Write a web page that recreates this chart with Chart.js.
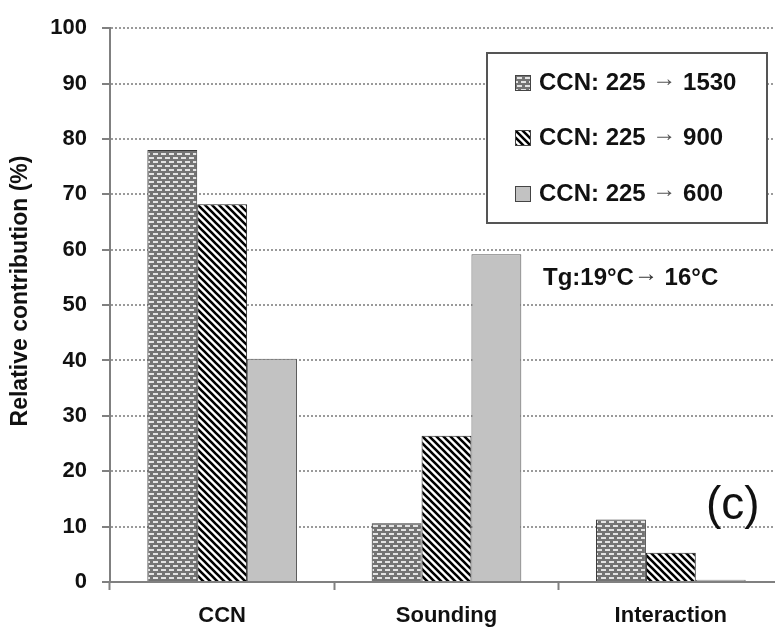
<!DOCTYPE html>
<html>
<head>
<meta charset="utf-8">
<script src="https://cdn.jsdelivr.net/npm/chart.js@4"></script>
<style>
  html, body { margin: 0; padding: 0; background: #fff; overflow: hidden; }
  #wrap { width: 775px; height: 631px; overflow: hidden; }
  canvas { display: block; }
</style>
</head>
<body>
<div id="wrap"><canvas id="chart" width="790" height="631"></canvas></div>
<script>
// Relative contribution of each factor for three CCN increases
const categories = ['CCN', 'Sounding', 'Interaction'];
const ccnFrom = 225;
const ccnTo = [1530, 900, 600];
const ccn1530 = [78.0, 10.6, 11.3];
const ccn900 = [68.2, 26.4, 5.3];
const ccn600 = [40.3, 59.2, 0.4];
const yTicks = [0, 10, 20, 30, 40, 50, 60, 70, 80, 90, 100];
const axisTitle = 'Relative contribution (%)';
const noteParts = ['Tg:19°C', '→', ' 16°C'];
const panelText = '(c)';

const FONT = '"Liberation Sans", Arial, Helvetica, sans-serif';
const canvas = document.getElementById('chart');
const ctx = canvas.getContext('2d');

function makeTile(size, draw) {
  const t = document.createElement('canvas');
  t.width = size; t.height = size;
  draw(t.getContext('2d'), size);
  return ctx.createPattern(t, 'repeat');
}

// brick-like dashes on grey
const brick = makeTile(8, (g) => {
  g.fillStyle = '#747474'; g.fillRect(0, 0, 8, 8);
  g.fillStyle = '#e4e4e4';
  g.fillRect(1, 1, 5, 2);
  g.fillRect(5, 5, 5, 2);
  g.fillRect(-3, 5, 5, 2);
});

// black diagonal stripes running down to the right
const stripes = makeTile(7, (g, s) => {
  g.fillStyle = '#ffffff'; g.fillRect(0, 0, s, s);
  g.strokeStyle = '#000000'; g.lineWidth = 2.6;
  g.beginPath();
  g.moveTo(-2, -2); g.lineTo(s + 2, s + 2);
  g.moveTo(-2, s - 2); g.lineTo(2, s + 2);
  g.moveTo(s - 2, -2); g.lineTo(s + 2, 2);
  g.stroke();
});

const fills = [brick, stripes, '#c2c2c2'];
const edges = ['#3a3a3a', '#222222', '#5a5a5a'];

const annotations = {
  id: 'annotations',
  afterDraw(chart) {
    const c = chart.ctx;
    c.save();
    // vertical axis title
    c.save();
    c.translate(21, 291);
    c.rotate(-Math.PI / 2);
    c.font = 'bold 23px ' + FONT;
    c.fillStyle = '#111';
    c.textAlign = 'center';
    c.textBaseline = 'middle';
    c.fillText(axisTitle, 0, 0);
    c.restore();

    // legend box
    c.fillStyle = '#ffffff';
    c.fillRect(487, 53, 280, 170);
    c.strokeStyle = '#555555';
    c.lineWidth = 2;
    c.strokeRect(487, 53, 280, 170);
    const rows = [83, 138, 194];
    c.textBaseline = 'middle';
    c.textAlign = 'left';
    chart.data.datasets.forEach((ds, i) => {
      const y = rows[i];
      c.fillStyle = ds.backgroundColor;
      c.fillRect(515, y - 8, 16, 16);
      c.strokeStyle = '#444';
      c.lineWidth = 1;
      c.strokeRect(515.5, y - 7.5, 15, 15);
      let x = 539;
      c.fillStyle = '#111';
      c.font = 'bold 24px ' + FONT;
      const a = 'CCN: ' + ccnFrom + ' ';
      c.fillText(a, x, y);
      x += c.measureText(a).width;
      c.font = '24px ' + FONT;
      c.fillStyle = '#555';
      c.fillText('→', x, y - 4);
      x += c.measureText('→').width;
      c.font = 'bold 24px ' + FONT;
      c.fillStyle = '#111';
      c.fillText(' ' + ccnTo[i], x, y);
    });
    // temperature note
    let nx = 543;
    const ny = 278;
    c.fillStyle = '#111';
    c.font = 'bold 24px ' + FONT;
    c.fillText(noteParts[0], nx, ny);
    nx += c.measureText(noteParts[0]).width;
    c.font = 'bold 24px ' + FONT;
    c.fillStyle = '#333';
    c.fillText(noteParts[1], nx, ny - 4);
    nx += c.measureText(noteParts[1]).width;
    c.fillStyle = '#111';
    c.fillText(noteParts[2], nx, ny);
    // panel label
    c.font = '46px ' + FONT;
    c.fillText(panelText, 706, 506);
    c.restore();
  }
};

new Chart(canvas, {
  type: 'bar',
  data: {
    labels: categories,
    datasets: [ccn1530, ccn900, ccn600].map((d, i) => ({
      label: 'CCN: ' + ccnFrom + ' → ' + ccnTo[i],
      data: d,
      backgroundColor: fills[i],
      borderColor: edges[i],
      borderWidth: 1,
      categoryPercentage: 0.667,
      barPercentage: 1.0
    }))
  },
  options: {
    responsive: false,
    devicePixelRatio: 1,
    animation: false,
    layout: { padding: { top: 23, right: 7, left: 0, bottom: 0 } },
    plugins: { legend: { display: false }, tooltip: { enabled: false } },
    scales: {
      x: {
        afterFit(s) { s.height = 49; },
        grid: {
          offset: true,
          drawOnChartArea: false,
          tickLength: 8,
          tickColor: '#808080',
          tickWidth: 2
        },
        border: { display: true, color: '#808080', width: 2 },
        ticks: {
          color: '#111',
          padding: 13,
          font: { family: FONT, size: 22, weight: 'bold' }
        }
      },
      y: {
        min: 0,
        max: 100,
        afterFit(s) { s.width = 110; },
        afterBuildTicks(s) { s.ticks = yTicks.map(v => ({ value: v })); },
        grid: {
          color: '#9a9a9a',
          lineWidth: 2,
          tickLength: 8,
          tickColor: '#808080',
          tickWidth: 2,
          tickBorderDash: []
        },
        border: { display: true, color: '#808080', width: 2, dash: [2, 2] },
        ticks: {
          color: '#111',
          padding: 15,
          font: { family: FONT, size: 22, weight: 'bold' }
        }
      }
    }
  },
  plugins: [annotations]
});
</script>
</body>
</html>
